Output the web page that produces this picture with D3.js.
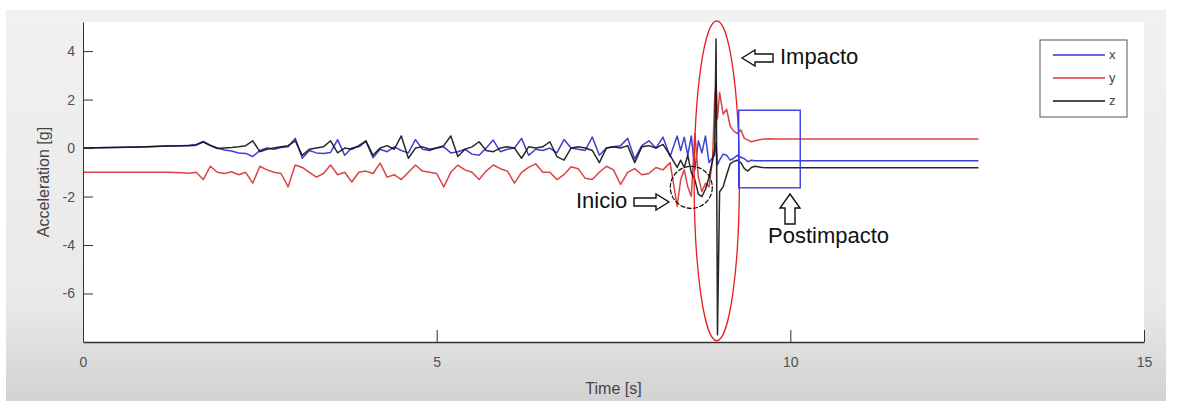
<!DOCTYPE html>
<html lang="es">
<head>
<meta charset="utf-8">
<title>Acceleration</title>
<script src="https://cdn.jsdelivr.net/npm/d3@7"></script>
<style>
  html, body { margin: 0; padding: 0; background: #fff; }
  svg { display: block; font-family: "Liberation Sans", Arial, sans-serif; }
  .tick text { fill: #505050; }
  .tick line, .domain { stroke: #333; }
</style>
</head>
<body>
<svg id="chart" width="1178" height="401"></svg>
<script>
// --- data ---
var time = [0, 0.4, 0.8, 1.2, 1.4, 1.5,
  1.6, 1.7, 1.8, 1.9, 2.0, 2.1, 2.2, 2.3, 2.4, 2.5,
  2.6, 2.7, 2.8, 2.9, 3.0, 3.1, 3.2, 3.3, 3.4, 3.5,
  3.6, 3.7, 3.8, 3.9, 4.0, 4.1, 4.2, 4.3, 4.4, 4.5,
  4.6, 4.7, 4.8, 4.9, 5.0, 5.1, 5.2, 5.3, 5.4, 5.5,
  5.6, 5.7, 5.8, 5.9, 6.0, 6.1, 6.2, 6.3, 6.4, 6.5,
  6.6, 6.7, 6.8, 6.9, 7.0, 7.1, 7.2, 7.3, 7.4, 7.5,
  7.6, 7.7, 7.8, 7.9, 8.0, 8.1, 8.2, 8.3, 8.4,
  8.45, 8.5, 8.55, 8.6, 8.65, 8.7, 8.75, 8.8, 8.85, 8.9,
  8.93, 8.95, 8.97,
  9.0, 9.05, 9.1, 9.15, 9.2, 9.25, 9.3, 9.35, 9.4, 9.45, 9.5,
  9.6, 9.7, 9.8, 10, 11, 12, 12.66];

var accX = [0.0, 0.02, 0.04, 0.08, 0.1, 0.12,
  0.15, 0.27, 0.12, 0.0, -0.08, -0.12, -0.2, -0.22, -0.35, -0.1,
  0.0, -0.05, 0.02, 0.05, 0.4, -0.42, -0.1, -0.2, -0.22, -0.18,
  0.35, -0.3, 0.0, 0.05, 0.27, -0.4, -0.05, -0.15, 0.05, -0.1,
  -0.2, 0.35, -0.05, -0.1, 0.0, 0.05, -0.2, -0.15, -0.05, -0.25,
  -0.3, 0.0, 0.33, -0.15, -0.05, 0.0, 0.4, -0.3, -0.05, -0.1,
  0.0, -0.2, 0.35, 0.0, -0.05, -0.1, 0.46, -0.3, 0.0, 0.05,
  0.1, 0.4, -0.45, 0.1, 0.3, 0.0, 0.45, -0.35, 0.5,
  -0.1, 0.45, -0.3, 0.5, -0.9, 0.3, -0.2, 0.5, -0.6, -0.4,
  -0.3, 0.2, -0.7,
  -0.5, -0.25, -0.3, -0.5, -0.42, -0.3, -0.38, -0.44, -0.56, -0.5, -0.52,
  -0.52, -0.52, -0.52, -0.52, -0.52, -0.52, -0.52];

var accY = [-1.0, -1.0, -1.0, -1.0, -1.02, -1.04,
  -1.0, -1.3, -0.75, -1.0, -1.05, -0.98, -1.1, -1.0, -1.45, -0.75,
  -0.9, -1.0, -1.05, -1.6, -0.7, -0.8, -1.0, -1.2, -1.05, -0.7,
  -1.1, -1.0, -1.4, -1.0, -0.95, -1.05, -0.62, -1.2, -1.1, -1.3,
  -1.0, -0.7, -0.95, -1.0, -1.05, -1.6, -1.0, -0.7, -0.9, -1.0,
  -1.3, -0.95, -0.7, -0.85, -0.95, -1.45, -1.0, -0.8, -0.65, -1.0,
  -1.0, -1.3, -1.1, -0.77, -0.85, -1.25, -1.3, -1.0, -0.75, -0.9,
  -1.5, -1.0, -0.85, -1.1, -1.05, -0.8, -0.9, -0.6, -2.4,
  -1.3, -0.9, -1.6, -2.0, 0.6, -1.2, -1.8, -1.45, -1.6, -0.5,
  2.0, 2.7, 1.2,
  2.3, 1.4, 1.6, 0.9, 0.7, 0.6, 0.75, 0.4, 0.33, 0.26, 0.3,
  0.36, 0.38, 0.37, 0.37, 0.37, 0.37, 0.37];

var accZ = [0.0, 0.02, 0.04, 0.08, 0.1, 0.1,
  0.12, 0.25, 0.1, -0.02, 0.0, 0.02, 0.05, 0.1, 0.3, -0.15,
  -0.05, 0.0, 0.05, 0.1, 0.3, -0.3, -0.05, 0.0, 0.05, 0.3,
  -0.2, 0.0, -0.05, 0.1, 0.3, -0.3, 0.0, 0.1, -0.05, 0.5,
  -0.42, 0.0, 0.05, -0.05, 0.0, 0.1, 0.5, -0.35, -0.05, 0.05,
  0.26, -0.1, -0.15, 0.0, 0.05, 0.0, -0.42, 0.05, 0.0, 0.05,
  0.26, -0.35, -0.5, 0.0, 0.05, 0.0, -0.1, -0.6, 0.0, 0.05,
  0.0, 0.1, -0.6, 0.05, 0.1, 0.0, 0.15, -0.3, -0.8,
  -0.5, -0.8, -0.3, -1.0, -1.3, -1.9, -2.0, -1.7, -1.2, -0.5,
  0.0, 4.5, -7.7,
  -1.8, -1.6, -1.1, -0.65, -0.55, -0.5, -0.6, -0.85, -0.95, -0.8, -0.75,
  -0.8, -0.81, -0.81, -0.81, -0.81, -0.81, -0.81];

var seriesNames = ['x', 'y', 'z'];
var seriesColors = ['#3535d0', '#d83a3a', '#111111'];
var xTicks = [0, 5, 10, 15];
var yTicks = [-6, -4, -2, 0, 2, 4];

// annotations, in data units
var impactEllipse = {t: 8.96, v: -1.35, rt: 0.32, rv: 6.6};
var startCircle = {t: 8.6, v: -1.62, r: 21};
var postBox = {t0: 9.27, t1: 10.14, v0: 1.56, v1: -1.64};

var svg = d3.select('#chart');
var W = 1178, H = 401;

// figure background (grey frame, darker toward the bottom)
var defs = svg.append('defs');
var grad = defs.append('linearGradient').attr('id', 'bg')
    .attr('x1', 0).attr('y1', 0).attr('x2', 0).attr('y2', 1);
grad.append('stop').attr('offset', '0%').attr('stop-color', '#f1f1f1');
grad.append('stop').attr('offset', '75%').attr('stop-color', '#e9e9e9');
grad.append('stop').attr('offset', '100%').attr('stop-color', '#d2d2d2');
svg.append('rect').attr('x', 6).attr('y', 10).attr('width', 1160).attr('height', H - 10)
    .attr('fill', 'url(#bg)');

var x = d3.scaleLinear().domain([0, 15]).range([83, 1144]);
var y = d3.scaleLinear().domain([-8, 5.2]).range([342, 22]);

svg.append('rect')
    .attr('x', x(0)).attr('y', y(5.2))
    .attr('width', x(15) - x(0)).attr('height', y(-8) - y(5.2))
    .attr('fill', '#fff');

// lines
var seriesData = [accX, accY, accZ];
var line = d3.line()
    .x(function(d) { return x(d[0]); })
    .y(function(d) { return y(d[1]); });

var plot = svg.append('g');
for (var i = 0; i < seriesData.length; i++) {
    var pts = d3.zip(time, seriesData[i]);
    plot.append('path')
        .datum(pts)
        .attr('d', line)
        .attr('fill', 'none')
        .attr('stroke', seriesColors[i])
        .attr('stroke-width', 1.5)
        .attr('stroke-linejoin', 'round')
        .attr('opacity', i == 2 ? 0.9 : 0.95);
}

// axes (ticks point inward, like matlab); plain hyphen for negatives
var fmt = function(d) { return String(d); };
svg.append('g')
    .attr('transform', 'translate(0,' + y(-8) + ')')
    .call(d3.axisBottom(x).tickValues(xTicks).tickFormat(fmt).tickSizeInner(-12).tickSizeOuter(0).tickPadding(15))
    .call(function(g) { g.select('.domain').attr('stroke-width', 1.3); });

svg.append('g')
    .attr('transform', 'translate(' + x(0) + ',0)')
    .call(d3.axisLeft(y).tickValues(yTicks).tickFormat(fmt).tickSizeInner(-10).tickSizeOuter(0).tickPadding(8))
    .call(function(g) { g.select('.domain').attr('stroke', '#555'); });

svg.selectAll('.tick text').attr('font-size', 14);

svg.append('text')
    .attr('x', (x(0) + x(15)) / 2).attr('y', 394)
    .attr('text-anchor', 'middle')
    .attr('font-size', 16).attr('fill', '#444')
    .text('Time [s]');

svg.append('text')
    .attr('transform', 'translate(49,' + (y(-8) + y(5.2)) / 2 + ') rotate(-90)')
    .attr('text-anchor', 'middle')
    .attr('font-size', 16).attr('fill', '#444')
    .text('Acceleration [g]');

// legend
var leg = svg.append('g').attr('transform', 'translate(1040,40)');
leg.append('rect').attr('width', 87).attr('height', 77)
    .attr('fill', '#fff').attr('stroke', '#555').attr('stroke-width', 1);
seriesNames.forEach(function(name, k) {
    leg.append('line')
        .attr('x1', 13).attr('x2', 65)
        .attr('y1', 15 + k * 23).attr('y2', 15 + k * 23)
        .attr('stroke', seriesColors[k]).attr('stroke-width', 1.4);
    leg.append('text')
        .attr('x', 69).attr('y', 19 + k * 23)
        .attr('font-size', 13).attr('fill', '#444')
        .text(name);
});

// annotations
var ann = svg.append('g');
ann.append('ellipse')
    .attr('cx', x(impactEllipse.t)).attr('cy', y(impactEllipse.v))
    .attr('rx', x(impactEllipse.rt) - x(0)).attr('ry', y(0) - y(impactEllipse.rv))
    .attr('fill', 'none').attr('stroke', '#e81c1c').attr('stroke-width', 1.3);

ann.append('circle')
    .attr('cx', x(startCircle.t)).attr('cy', y(startCircle.v)).attr('r', startCircle.r)
    .attr('fill', 'none').attr('stroke', '#111').attr('stroke-width', 1.2)
    .attr('stroke-dasharray', '5,1.5');

ann.append('rect')
    .attr('x', x(postBox.t0)).attr('y', y(postBox.v0))
    .attr('width', x(postBox.t1) - x(postBox.t0)).attr('height', y(postBox.v1) - y(postBox.v0))
    .attr('fill', 'none').attr('stroke', '#3a3ae6').attr('stroke-width', 1.4);

// hollow block arrow: tip at (0,0) pointing left, then rotated
function blockArrow(g, tx, ty, angle, len, head, hw, sw) {
    var p = [[0, 0], [head, -hw], [head, -sw], [len, -sw], [len, sw], [head, sw], [head, hw]];
    g.append('path')
        .attr('d', 'M' + p.join('L') + 'Z')
        .attr('transform', 'translate(' + tx + ',' + ty + ') rotate(' + angle + ')')
        .attr('fill', '#fff').attr('stroke', '#111').attr('stroke-width', 1.4);
}
blockArrow(ann, 742, 58, 0, 31, 13, 8, 4);
blockArrow(ann, 669, 202, 180, 35, 13, 8, 4);
blockArrow(ann, 790, 194, 90, 30, 14, 10, 5);

ann.append('text').attr('x', 780).attr('y', 64).attr('font-size', 22).attr('fill', '#111').text('Impacto');
ann.append('text').attr('x', 576).attr('y', 208).attr('font-size', 22).attr('fill', '#111').text('Inicio');
ann.append('text').attr('x', 768).attr('y', 243).attr('font-size', 22).attr('fill', '#111').text('Postimpacto');
</script>
</body>
</html>
